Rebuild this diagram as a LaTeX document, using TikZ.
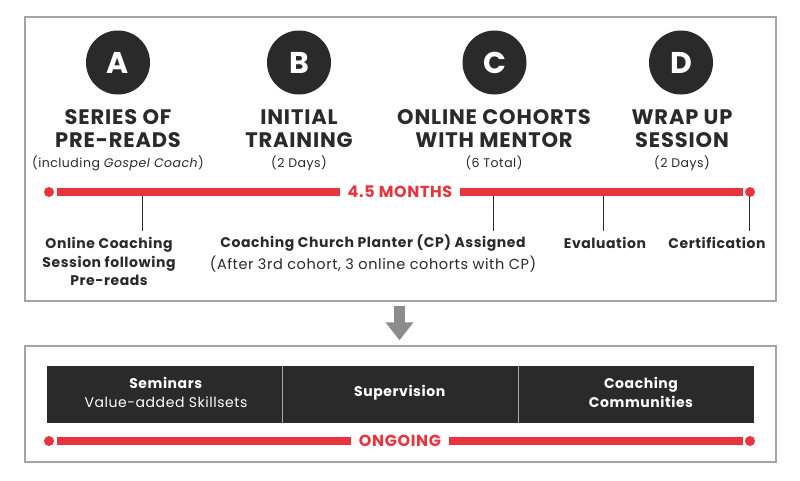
\documentclass[tikz,border=0pt]{standalone}
\usepackage{fontspec}
\setmainfont{Poppins}[LetterSpace=4]
\usetikzlibrary{arrows.meta}
\definecolor{tred}{RGB}{232,52,62}
\definecolor{dark}{RGB}{43,42,42}
\definecolor{framec}{RGB}{165,165,165}
\definecolor{arrowc}{RGB}{140,140,140}
\definecolor{divc}{RGB}{170,170,170}
\begin{document}
\begin{tikzpicture}[x=1pt,y=-1pt,
  panel/.style={draw=framec, line width=1.5pt, fill=white, inner sep=0, minimum width=751pt},
  letter/.style={circle, fill=dark, minimum size=64pt, inner sep=0, text=white, font=\fontsize{30}{30}\selectfont\bfseries},
  title/.style={align=center, inner sep=0, text=dark, font=\fontsize{21}{23}\selectfont\bfseries},
  subt/.style={inner sep=0, text=dark, font=\fontsize{12.5}{14}\selectfont},
  lab/.style={align=center, inner sep=0, text=dark, font=\fontsize{14}{18.5}\selectfont\bfseries},
  labsub/.style={inner sep=0, text=dark, font=\fontsize{14.5}{16}\selectfont},
  tdot/.style={circle, fill=tred, minimum size=10pt, inner sep=0, outer sep=2.5pt},
  tlabel/.style={inner sep=0, outer xsep=8pt, text=tred, font=\fontsize{16}{16}\selectfont\bfseries},
  tline/.style={draw=tred, line width=8pt},
  tick/.style={draw=dark, line width=0.9pt},
  barbox/.style={fill=dark, inner sep=0, minimum height=57pt},
  bartext/.style={align=center, inner sep=0, text=white, font=\fontsize{14}{19}\selectfont},
  divider/.style={draw=divc, line width=1pt}
]
\useasboundingbox (0,0) rectangle (800,480);
\fill[white] (0,0) rectangle (800,480);

% panels
\node[panel, minimum height=284pt] (top) at (400.5,159) {};
\node[panel, minimum height=116pt] (bottom) at (400.5,404) {};
\draw[draw=arrowc, line width=11pt, -{Triangle[length=18pt,width=27pt]}, shorten <=4pt, shorten >=5pt] (top.south -| 399.5,0) -- (bottom.north -| 399.5,0);

% phases
\node[letter] (A) at (118,62.5) {A};
\node[letter] (B) at (299,62.5) {B};
\node[letter] (C) at (494.5,62.5) {C};
\node[letter] (D) at (681,62.5) {D};

\node[title] (tA) at (118,128.5) {SERIES OF\\PRE-READS};
\node[title] (tB) at (299,128.5) {INITIAL\\TRAINING};
\node[title] (tC) at (494,128.5) {ONLINE COHORTS\\WITH MENTOR};
\node[title] (tD) at (682,128.5) {WRAP UP\\SESSION};

\node[subt] (sA) at (118,163) {(including \textit{Gospel Coach})};
\node[subt] (sB) at (299,163) {(2 Days)};
\node[subt] (sC) at (494,163) {(6 Total)};
\node[subt] (sD) at (682,163) {(2 Days)};

% ticks
\coordinate (k1a) at (142,192); \coordinate (k1b) at (142,231);
\coordinate (k2a) at (493,192); \coordinate (k2b) at (493,231);
\coordinate (k3a) at (603,192); \coordinate (k3b) at (603,231);
\coordinate (k4a) at (749,192); \coordinate (k4b) at (749,231);
\draw[tick] (k1a) -- (k1b);
\draw[tick] (k2a) -- (k2b);
\draw[tick] (k3a) -- (k3b);
\draw[tick] (k4a) -- (k4b);

% main timeline
\node[tdot] (d1) at (49,192) {};
\node[tdot] (d2) at (750,192) {};
\node[tlabel] (months) at (400,192) {4.5 MONTHS};
\draw[tline] (d1) -- (months);
\draw[tline] (months) -- (d2);

% milestone labels
\node[lab] (l1) at (109,261.5) {Online Coaching\\Session following\\Pre-reads};
\node[lab] (l2) at (373,243) {Coaching Church Planter (CP) Assigned};
\node[labsub] (l2s) at (373,264) {(After 3rd cohort, 3 online cohorts with CP)};
\node[lab] (l3) at (605,243) {Evaluation};
\node[lab] (l4) at (717,243) {Certification};

% ongoing bar
\node[barbox, minimum width=235pt] (s1) at (164.5,394.5) {};
\node[barbox, minimum width=236pt] (s2) at (400,394.5) {};
\node[barbox, minimum width=236pt] (s3) at (636,394.5) {};
\draw[divider] (s1.north east) -- (s1.south east);
\draw[divider] (s2.north east) -- (s2.south east);
\node[bartext] (s1t) at (166,392.5) {\textbf{Seminars}\\Value-added Skillsets};
\node[bartext] (s2t) at (400,393) {\textbf{Supervision}};
\node[bartext, font=\fontsize{14}{19}\selectfont\bfseries] (s3t) at (641,392.5) {Coaching\\Communities};

\node[tdot] (e1) at (49,441) {};
\node[tdot] (e2) at (750,441) {};
\node[tlabel] (ongoing) at (400,441) {ONGOING};
\draw[tline] (e1) -- (ongoing);
\draw[tline] (ongoing) -- (e2);
\end{tikzpicture}
\end{document}
